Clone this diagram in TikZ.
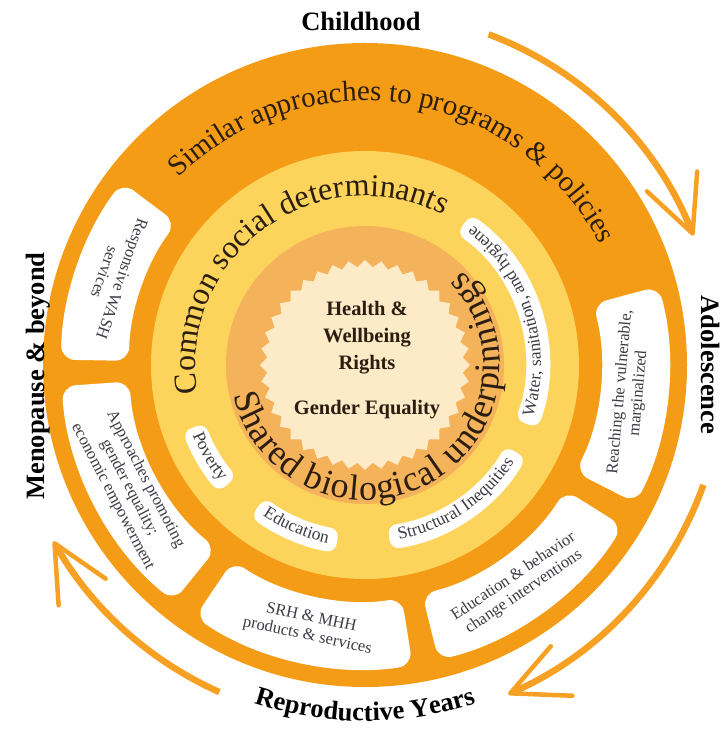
\documentclass[tikz,border=0pt]{standalone}
\usepackage{fontspec}
\setmainfont{Liberation Serif}
\usetikzlibrary{arrows.meta,decorations.text}

\definecolor{ringorange}{HTML}{F59C17}
\definecolor{ringyellow}{HTML}{FCD45C}
\definecolor{coreorange}{HTML}{F4B25A}
\definecolor{corecream}{HTML}{FCEBC6}
\definecolor{arroworange}{HTML}{F6A123}
\definecolor{inkbrown}{HTML}{2B1D10}
\definecolor{boxink}{HTML}{3C3C46}

\tikzset{
  boxtext/.style={align=center, text=boxink, inner sep=0pt, font=\fontsize{16.5}{18.5}\selectfont},
  stagelabel/.style={text=black, inner sep=0pt, font=\bfseries\fontsize{26.5}{30}\selectfont},
  lifearrow/.style={draw=arroworange, line width=6.5pt, -{Straight Barb[length=56pt, width=54pt, line width=4.5pt, round]}},
}

% white box on a ring: [corner] start angle, end angle, inner radius, outer radius
\newcommand{\ringbox}[5][14pt]{\fill[white, rounded corners=#1] (#2:#4) arc[start angle=#2, end angle=#3, radius=#4] -- (#3:#5) arc[start angle=#3, end angle=#2, radius=#5] -- cycle;}

\begin{document}
\begin{tikzpicture}[x=1pt, y=1pt]
    \useasboundingbox (-365,-365) rectangle (361,365);
    \fill[ringorange] (0,0) circle[radius=322];
    \fill[ringyellow] (0,0) circle[radius=214];
    \fill[coreorange] (0,0) circle[radius=139];
    \fill[corecream] plot[domain=0:360, samples=81] (\x:{101.5+3.5*cos(40*\x)}) -- cycle;

    \ringbox{143}{179}{236}{304}
    \ringbox{184}{231}{236}{304}
    \ringbox{236}{279}{236}{304}
    \ringbox{284}{328}{236}{304}
    \ringbox{333}{375}{236}{304}

    \ringbox[9pt]{-20}{55}{160}{184}
    \ringbox[9pt]{-82}{-30}{162}{186}
    \ringbox[9pt]{-127}{-99}{166}{190}
    \ringbox[9pt]{-160}{-139}{170}{194}

    \path[decorate, decoration={text along path, text align=center, text color=inkbrown,
        text={|\fontsize{29}{34}\selectfont|Similar approaches to programs {\&} policies}}]
        (171:264) arc[start angle=171, end angle=-9, radius=264];
    \path[decorate, decoration={text along path, text align=center, text color=inkbrown,
        text={|\fontsize{32}{37}\selectfont|Common social determinants}}]
        (216:169) arc[start angle=216, end angle=36, radius=169];
    \path[decorate, decoration={text along path, text align={fit to path}, text color=inkbrown,
        text={|\fontsize{36}{40}\selectfont|Shared biological underpinnings}}]
        (-167:135) arc[start angle=-167, end angle=44, radius=135];

    \path[decorate, decoration={text along path, text align=center, text color=boxink,
        text={|\fontsize{17.5}{20}\selectfont|Water, sanitation, and hygiene}}]
        (-42.5:176) arc[start angle=-42.5, end angle=77.5, radius=176];
    \path[decorate, decoration={text along path, text align=center, text color=boxink,
        text={|\fontsize{17.5}{20}\selectfont|Structural Inequities}}]
        (-116:178) arc[start angle=-116, end angle=4, radius=178];
    \path[decorate, decoration={text along path, text align=center, text color=boxink,
        text={|\fontsize{17.5}{20}\selectfont|Education}}]
        (-173:182) arc[start angle=-173, end angle=-53, radius=182];
    \path[decorate, decoration={text along path, text align=center, text color=boxink,
        text={|\fontsize{17.5}{20}\selectfont|Poverty}}]
        (-209.5:186) arc[start angle=-209.5, end angle=-89.5, radius=186];

    \node[boxtext, rotate=-109.5] (wash) at (160.5:267) {Responsive WASH\\services};
    \node[boxtext, rotate=-62.5] (approaches) at (207.5:266) {Approaches promoting\\gender equality;\\economic empowerment};
    \node[boxtext, rotate=-12] (srh) at (258:268) {SRH \& MHH\\products \& services};
    \node[boxtext, rotate=34] (behaviour) at (305:268) {Education \& behavior\\change interventions};
    \node[boxtext, rotate=85] (reaching) at (354:266) {Reaching the vulnerable,\\marginalized};

    \node[align=center, text=inkbrown, inner sep=0pt, font=\bfseries\fontsize{20.5}{27}\selectfont] (core) at (2,5)
        {Health \&\\Wellbeing\\Rights\\[18pt]Gender Equality};

    \node[stagelabel] (childhood) at (-4,344) {Childhood};
    \node[stagelabel, rotate=-90] (adolescence) at (346,0) {Adolescence};
    \node[stagelabel, rotate=90] (menopause) at (-327,-11) {Menopause \& beyond};
    \path[decorate, decoration={text along path, text align=center, text color=black,
        text={|\bfseries\fontsize{26.5}{30}\selectfont|Reproductive Years}}]
        (-140:356) arc[start angle=-140, end angle=-40, radius=356];

    \draw[lifearrow] (69.5:353) arc[start angle=69.5, end angle=21.5, radius=353];
    \draw[lifearrow] (-19.5:359) arc[start angle=-19.5, end angle=-66.5, radius=359];
    \draw[lifearrow] (246:358) arc[start angle=246, end angle=209.5, radius=358];
\end{tikzpicture}
\end{document}
